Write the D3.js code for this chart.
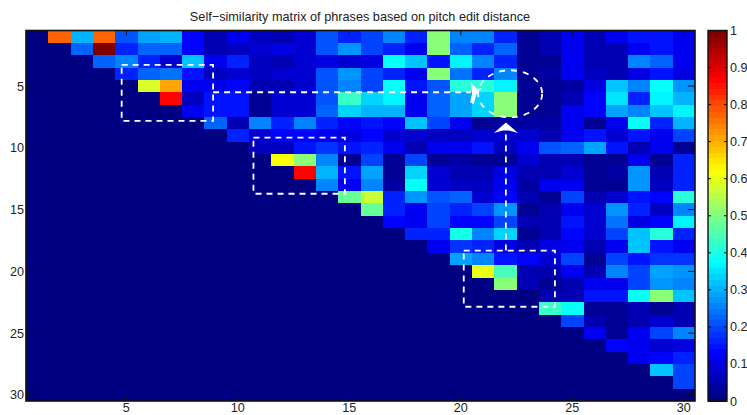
<!DOCTYPE html>
<html>
<head>
<meta charset="utf-8">
<script src="https://cdn.jsdelivr.net/npm/d3@7"></script>
<style>
  html, body { margin: 0; padding: 0; background: #fff; }
  text { font-family: "Liberation Sans", Arial, sans-serif; fill: #222; }
</style>
</head>
<body>
<svg id="chart" width="747" height="415" style="display:block"></svg>
<script>
const chartTitle = "Self\u2212similarity matrix of phrases based on pitch edit distance";
const xTicks = [5, 10, 15, 20, 25, 30];
const yTicks = [5, 10, 15, 20, 25, 30];
const barTicks = [0, 0.1, 0.2, 0.3, 0.4, 0.5, 0.6, 0.7, 0.8, 0.9, 1];

// one row per phrase (lower triangle is zero)
const matrix = [
  [0,.78,.31,.78,.21,.29,.31,.125,.06,.12,.07,.05,.08,.21,.17,.19,.25,.16,.5,.25,.25,.16,.02,.05,.11,.06,.11,.15,.15,.11],
  [0,0,.23,1,.17,.22,.22,.125,.06,.07,.08,.1,.08,.21,.27,.19,.16,.12,.5,.23,.17,.23,.02,.05,.11,.06,.05,.12,.15,.11],
  [0,0,0,.23,.26,.16,.08,.32,.11,.16,.07,.05,.08,.1,.08,.1,.39,.32,.15,.36,.26,.16,.02,.02,.12,.06,.05,.25,.23,.11],
  [0,0,0,0,.17,.23,.24,.15,.07,.08,.07,.09,.08,.21,.27,.2,.16,.12,.5,.24,.17,.25,.02,.04,.11,.07,.06,.1,.15,.1],
  [0,0,0,0,0,.59,.71,.12,.11,.13,.06,.06,.08,.21,.26,.2,.375,.15,.21,.42,.42,.36,.02,.02,.04,.1,.32,.26,.375,.27],
  [0,0,0,0,0,0,.87,.07,.15,.15,.02,.09,.08,.21,.43,.34,.36,.12,.22,.29,.33,.5,.02,.02,.05,.13,.35,.17,.37,.31],
  [0,0,0,0,0,0,0,.12,.15,.15,.02,.09,.08,.22,.33,.3,.31,.11,.23,.29,.34,.5,.02,.02,.12,.14,.29,.26,.32,.37],
  [0,0,0,0,0,0,0,0,.22,.05,.26,.16,.26,.17,.13,.15,.13,.32,.2,.12,.02,.04,.04,.04,.12,.02,.11,.375,.17,.31],
  [0,0,0,0,0,0,0,0,0,.17,.09,.13,.13,.12,.1,.13,.08,.08,.07,.07,.09,.08,.09,.06,.12,.15,.08,.15,.12,.2],
  [0,0,0,0,0,0,0,0,0,0,.07,.07,.15,.18,.15,.17,.12,.06,.11,.11,.15,.07,.11,.21,.22,.29,.15,.06,.11,.02],
  [0,0,0,0,0,0,0,0,0,0,0,.61,.5,.26,.02,.2,.02,.2,.03,.04,.02,.02,.08,.06,.06,.02,.02,.11,.02,.17],
  [0,0,0,0,0,0,0,0,0,0,0,0,.86,.3,.15,.29,.02,.33,.08,.05,.05,.1,.05,.05,.09,.02,.04,.27,.05,.17],
  [0,0,0,0,0,0,0,0,0,0,0,0,0,.26,.12,.26,.04,.39,.08,.07,.07,.12,.04,.11,.11,.02,.03,.27,.07,.17],
  [0,0,0,0,0,0,0,0,0,0,0,0,0,0,.48,.57,.16,.28,.21,.22,.09,.14,.05,.02,.2,.05,.08,.15,.14,.42],
  [0,0,0,0,0,0,0,0,0,0,0,0,0,0,0,.47,.16,.12,.19,.17,.2,.27,.02,.05,.11,.08,.27,.17,.07,.25],
  [0,0,0,0,0,0,0,0,0,0,0,0,0,0,0,0,.14,.12,.2,.14,.14,.19,.05,.05,.15,.09,.24,.1,.14,.36],
  [0,0,0,0,0,0,0,0,0,0,0,0,0,0,0,0,0,.16,.16,.4,.26,.34,.02,.05,.13,.09,.2,.32,.42,.17],
  [0,0,0,0,0,0,0,0,0,0,0,0,0,0,0,0,0,0,.12,.18,.16,.1,.05,.1,.11,.06,.11,.32,.15,.12],
  [0,0,0,0,0,0,0,0,0,0,0,0,0,0,0,0,0,0,0,.29,.26,.15,.14,.08,.2,.02,.2,.15,.18,.18],
  [0,0,0,0,0,0,0,0,0,0,0,0,0,0,0,0,0,0,0,0,.6,.44,.05,.05,.12,.06,.25,.2,.29,.27],
  [0,0,0,0,0,0,0,0,0,0,0,0,0,0,0,0,0,0,0,0,0,.5,.06,.02,.05,.11,.11,.2,.27,.25],
  [0,0,0,0,0,0,0,0,0,0,0,0,0,0,0,0,0,0,0,0,0,0,0,.06,.06,.15,.15,.39,.5,.32],
  [0,0,0,0,0,0,0,0,0,0,0,0,0,0,0,0,0,0,0,0,0,0,0,.43,.39,.03,.03,.05,.03,.05],
  [0,0,0,0,0,0,0,0,0,0,0,0,0,0,0,0,0,0,0,0,0,0,0,0,.2,.06,.03,.05,.08,.05],
  [0,0,0,0,0,0,0,0,0,0,0,0,0,0,0,0,0,0,0,0,0,0,0,0,0,.12,.03,.12,.2,.25],
  [0,0,0,0,0,0,0,0,0,0,0,0,0,0,0,0,0,0,0,0,0,0,0,0,0,0,.14,.12,.08,.1],
  [0,0,0,0,0,0,0,0,0,0,0,0,0,0,0,0,0,0,0,0,0,0,0,0,0,0,0,.12,.14,.17],
  [0,0,0,0,0,0,0,0,0,0,0,0,0,0,0,0,0,0,0,0,0,0,0,0,0,0,0,0,.32,.2],
  [0,0,0,0,0,0,0,0,0,0,0,0,0,0,0,0,0,0,0,0,0,0,0,0,0,0,0,0,0,.2],
  [0,0,0,0,0,0,0,0,0,0,0,0,0,0,0,0,0,0,0,0,0,0,0,0,0,0,0,0,0,0]
];

const svg = d3.select("#chart");
const plot = { left: 26, right: 695, top: 30.5, bottom: 401 };
const bar = { left: 708, right: 727 };

// matlab style jet map with 64 steps
const jet = d3.scaleLinear()
  .domain([0, 0.125, 0.375, 0.625, 0.875, 1])
  .range(["#000082", "#0000ff", "#00ffff", "#ffff00", "#ff0000", "#800000"]);
const levels = 64;
const color = v => jet(Math.min(levels - 1, Math.floor(v * levels)) / (levels - 1));

const x = d3.scaleLinear().domain([0.5, 30.5]).range([plot.left, plot.right]);
const y = d3.scaleLinear().domain([0.5, 30.5]).range([plot.top, plot.bottom]);
const barY = d3.scaleLinear().domain([0, 1]).range([plot.bottom, plot.top]);

// matrix cells
const cells = matrix.flatMap((row, i) => row.map((v, j) => ({ row: i + 1, col: j + 1, v })));
svg.append("g")
  .attr("shape-rendering", "crispEdges")
  .selectAll("rect")
  .data(cells)
  .enter()
  .append("rect")
  .attr("x", d => Math.round(x(d.col - 0.5)))
  .attr("y", d => Math.round(y(d.row - 0.5)))
  .attr("width", d => Math.round(x(d.col + 0.5)) - Math.round(x(d.col - 0.5)))
  .attr("height", d => Math.round(y(d.row + 0.5)) - Math.round(y(d.row - 0.5)))
  .attr("fill", d => color(d.v));

// dashed annotation boxes, in matrix coordinates
const boxes = [
  { x0: 4.79, x1: 8.89, y0: 3.29, y1: 7.82 },
  { x0: 10.7, x1: 14.8, y0: 9.17, y1: 13.72 },
  { x0: 20.13, x1: 24.22, y0: 18.32, y1: 22.87 }
];
const notes = svg.append("g")
  .attr("fill", "none")
  .attr("stroke", "#fff")
  .attr("stroke-width", 1.8)
  .attr("stroke-dasharray", "6,5");

notes.selectAll("rect")
  .data(boxes)
  .enter()
  .append("rect")
  .attr("x", d => x(d.x0))
  .attr("y", d => y(d.y0))
  .attr("width", d => x(d.x1) - x(d.x0))
  .attr("height", d => y(d.y1) - y(d.y0));

const line = d3.line().x(d => x(d[0])).y(d => y(d[1]));
notes.append("path").attr("d", line([[8.89, 5.5], [20.45, 5.5]]));
notes.append("path").attr("d", line([[22.02, 18.32], [22.02, 8.6]]));
notes.append("ellipse")
  .attr("cx", x(22.21)).attr("cy", y(5.62))
  .attr("rx", 32).attr("ry", 23.5)
  .attr("stroke-dasharray", "6,6");

// arrow heads
const heads = svg.append("g").attr("fill", "#fff");
heads.append("path")
  .attr("d", `M${x(22.02)},${y(7.95)} l12,10.5 l-9,-2.5 l-6,0 l-9,2.5 z`);
heads.append("path")
  .attr("d", `M${x(20.44)},${y(4.7)} l6,6.5 l5,-0.5 l-5,5 l-3,11 l-3.5,-2 l2,-9 l-0.5,-5 z`);

// axis frames and ticks, ticks point inside on all sides
const frame = svg.append("g").attr("stroke", "#111").attr("fill", "none");
frame.append("rect")
  .attr("x", plot.left).attr("y", plot.top)
  .attr("width", plot.right - plot.left).attr("height", plot.bottom - plot.top)
  .attr("stroke-width", 1.6);
const tl = 5;
xTicks.forEach(t => {
  frame.append("line").attr("x1", x(t)).attr("x2", x(t)).attr("y1", plot.top).attr("y2", plot.top + tl);
  frame.append("line").attr("x1", x(t)).attr("x2", x(t)).attr("y1", plot.bottom).attr("y2", plot.bottom - tl);
});
yTicks.forEach(t => {
  frame.append("line").attr("x1", plot.left).attr("x2", plot.left + tl + 2).attr("y1", y(t)).attr("y2", y(t));
  frame.append("line").attr("x1", plot.right).attr("x2", plot.right - tl - 2).attr("y1", y(t)).attr("y2", y(t));
});

svg.append("g").selectAll("text")
  .data(xTicks)
  .enter()
  .append("text")
  .attr("x", d => x(d))
  .attr("y", 412)
  .attr("text-anchor", "middle")
  .style("font-size", "12.6px")
  .text(d => d);
svg.append("g").selectAll("text")
  .data(yTicks)
  .enter()
  .append("text")
  .attr("x", plot.left - 2)
  .attr("y", d => y(d) + 4.5)
  .attr("text-anchor", "end")
  .style("font-size", "12.6px")
  .text(d => d);

svg.append("text")
  .attr("x", 360)
  .attr("y", 21)
  .attr("text-anchor", "middle")
  .style("font-size", "12.7px")
  .text(chartTitle);

// colorbar
svg.append("g")
  .attr("shape-rendering", "crispEdges")
  .selectAll("rect")
  .data(d3.range(levels))
  .enter()
  .append("rect")
  .attr("x", bar.left)
  .attr("y", d => barY((d + 1) / levels))
  .attr("width", bar.right - bar.left)
  .attr("height", (plot.bottom - plot.top) / levels + 0.5)
  .attr("fill", d => jet(d / (levels - 1)));
const barFrame = svg.append("g").attr("stroke", "#111").attr("fill", "none");
barFrame.append("rect")
  .attr("x", bar.left).attr("y", plot.top)
  .attr("width", bar.right - bar.left).attr("height", plot.bottom - plot.top)
  .attr("stroke-width", 1.4);
barTicks.forEach(t => {
  barFrame.append("line").attr("x1", bar.left).attr("x2", bar.left + 3).attr("y1", barY(t)).attr("y2", barY(t));
  barFrame.append("line").attr("x1", bar.right).attr("x2", bar.right - 3).attr("y1", barY(t)).attr("y2", barY(t));
});
svg.append("g").selectAll("text")
  .data(barTicks)
  .enter()
  .append("text")
  .attr("x", bar.right + 3)
  .attr("y", d => barY(d) + 4.5)
  .style("font-size", "12.6px")
  .text(d => d);
</script>
</body>
</html>
